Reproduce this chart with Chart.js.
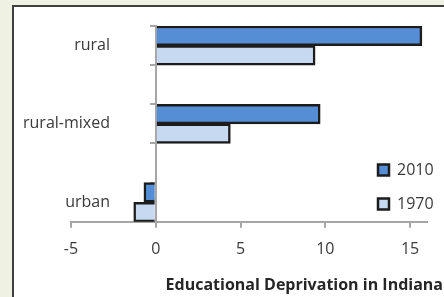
<!DOCTYPE html>
<html lang="en">
<head>
    <meta charset="UTF-8">
    <title>Educational Deprivation in Indiana</title>
    <script src="https://cdn.jsdelivr.net/npm/chart.js@4/dist/chart.umd.min.js"></script>
    <style>
        html, body { margin: 0; padding: 0; background: #eff2e3; }
        #panel {
            position: absolute; left: 12px; top: 5px; width: 440px; height: 290px;
            background: #fff; border-left: 2px solid #3f3f3f; border-top: 2px solid #3f3f3f;
            border-bottom: 1px solid #d9d9d9;
        }
        #chart { position: absolute; left: 0; top: 0; }
    </style>
</head>
<body>
    <div id="panel"></div>
    <canvas id="chart" width="444" height="297"></canvas>

    <script>
        // blank categories give the gaps between the groups
        const categories = ['rural', '', 'rural-mixed', '', 'urban'];
        const values2010 = [15.7, null, 9.7, null, -0.7];
        const values1970 = [9.4, null, 4.4, null, -1.3];
        const xTicks = [-5, 0, 5, 10, 15];

        const font = { family: '"Open Sans", Lato, sans-serif', size: 16 };
        const axisGray = '#a6a6a6';
        const textColor = '#3a3a3a';

        // move legend and title where the original has them
        const placeBoxes = {
            id: 'placeBoxes',
            afterLayout(chart) {
                const lg = chart.legend;
                lg.left = 360;
                lg.right = 444;
                lg.width = 84;
                lg.top = 144;
                lg.bottom = 297;
                lg.height = 153;
                chart.titleBlock.right = 443;
            }
        };

        new Chart(document.getElementById('chart'), {
            type: 'bar',
            data: {
                labels: categories,
                datasets: [{
                    label: '2010',
                    data: values2010,
                    backgroundColor: '#558ed5',
                    borderColor: '#1c1c1c',
                    borderWidth: 2.5
                }, {
                    label: '1970',
                    data: values1970,
                    backgroundColor: '#c6d9f1',
                    borderColor: '#1c1c1c',
                    borderWidth: 2.5
                }]
            },
            options: {
                indexAxis: 'y',
                responsive: false,
                animation: false,
                datasets: { bar: { categoryPercentage: 1, barPercentage: 1 } },
                layout: { padding: { left: 71, right: 17, top: 26, bottom: 2 } },
                scales: {
                    x: {
                        min: -5,
                        max: 16,
                        afterBuildTicks: s => { s.ticks = xTicks.map(v => ({ value: v })); },
                        afterFit: s => { s.height = 54; },
                        ticks: { font: font, color: textColor, padding: 12 },
                        grid: { drawOnChartArea: false, tickLength: 6, color: axisGray, lineWidth: 2 },
                        border: { color: axisGray, width: 2 }
                    },
                    // axis line at zero with its tick marks
                    y: {
                        position: { x: 0 },
                        z: 1,
                        afterFit: s => { s.width = 0; },
                        ticks: { display: false },
                        grid: { drawOnChartArea: false, tickLength: 5, color: axisGray, lineWidth: 2 },
                        border: { color: axisGray, width: 2 }
                    },
                    // category names, right edge anchored a bit left of zero
                    yLabels: {
                        type: 'category',
                        axis: 'y',
                        position: { x: -2.7 },
                        offset: true,
                        labels: categories,
                        afterFit: s => { s.width = 0; },
                        ticks: { font: font, color: textColor, padding: 0 },
                        grid: { display: false, drawTicks: false },
                        border: { display: false }
                    }
                },
                plugins: {
                    legend: {
                        position: 'chartArea',
                        align: 'start',
                        labels: { font: font, color: textColor, boxWidth: 11, boxHeight: 11, padding: 18 }
                    },
                    title: {
                        display: true,
                        position: 'bottom',
                        align: 'end',
                        text: 'Educational Deprivation in Indiana',
                        color: '#262626',
                        font: { family: font.family, size: 16, weight: 'bold' },
                        padding: 0
                    },
                    tooltip: { enabled: false }
                }
            },
            plugins: [placeBoxes]
        });
    </script>
</body>
</html>
